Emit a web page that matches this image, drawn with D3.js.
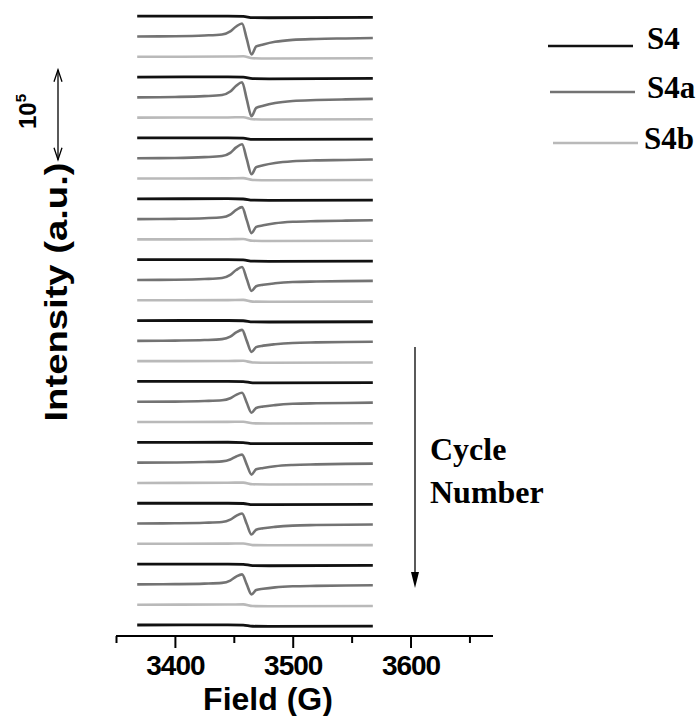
<!DOCTYPE html>
<html><head><meta charset="utf-8">
<script src="https://cdn.jsdelivr.net/npm/d3@7"></script>
<style>body{margin:0;background:#fff}</style>
</head><body>
<svg id="c" width="700" height="716"></svg>
<script>
// ---------- data ----------
const fieldTicks = [3350, 3400, 3450, 3500, 3550, 3600, 3650];
const tickLabels = ["3400", "3500", "3600"];
const seriesNames = ["S4", "S4a", "S4b"];
const seriesColors = ["#111111", "#737373", "#b9b9b9"];

// S4a field grid (G) and intensities (×10^4 a.u.) for each cycle 1..10
const fieldS4a = [3368, 3400, 3425, 3440, 3447, 3452, 3457, 3461, 3465, 3469, 3475, 3485, 3500, 3520, 3545, 3568];
const s4aCycle1  = [0, 0.03, 0.11, 0.22, 0.56, 1.11, 1.44, -0.28, -2.00, -1.11, -0.89, -0.60, -0.38, -0.28, -0.22, -0.17];
const s4aCycle2  = [0, 0.04, 0.13, 0.26, 0.64, 1.28, 1.67, -0.22, -2.11, -1.18, -0.93, -0.63, -0.40, -0.30, -0.23, -0.17];
const s4aCycle3  = [0, 0.03, 0.12, 0.24, 0.60, 1.20, 1.56, -0.11, -1.78, -1.00, -0.78, -0.53, -0.33, -0.24, -0.20, -0.14];
const s4aCycle4  = [0, 0.03, 0.10, 0.20, 0.51, 1.02, 1.33, -0.11, -1.56, -0.87, -0.69, -0.47, -0.30, -0.22, -0.17, -0.12];
const s4aCycle5  = [0, 0.03, 0.11, 0.22, 0.56, 1.11, 1.44, 0.11, -1.22, -0.69, -0.53, -0.37, -0.23, -0.17, -0.13, -0.10];
const s4aCycle6  = [0, 0.03, 0.09, 0.19, 0.47, 0.94, 1.22, 0.00, -1.22, -0.69, -0.53, -0.37, -0.23, -0.17, -0.13, -0.10];
const s4aCycle7  = [0, 0.02, 0.08, 0.16, 0.39, 0.77, 1.00, -0.11, -1.22, -0.69, -0.53, -0.37, -0.23, -0.17, -0.13, -0.10];
const s4aCycle8  = [0, 0.02, 0.07, 0.14, 0.34, 0.69, 0.89, -0.22, -1.33, -0.74, -0.59, -0.40, -0.26, -0.19, -0.14, -0.11];
const s4aCycle9  = [0, 0.03, 0.09, 0.17, 0.43, 0.86, 1.11, -0.06, -1.22, -0.69, -0.53, -0.37, -0.23, -0.17, -0.13, -0.10];
const s4aCycle10 = [0, 0.03, 0.09, 0.17, 0.43, 0.86, 1.11, 0.00, -1.11, -0.62, -0.49, -0.33, -0.21, -0.16, -0.12, -0.09];
const s4aCycles = [s4aCycle1, s4aCycle2, s4aCycle3, s4aCycle4, s4aCycle5, s4aCycle6, s4aCycle7, s4aCycle8, s4aCycle9, s4aCycle10];

// S4 and S4b: nearly flat traces with a small step near 3462 G
const fieldFlat = [3368, 3445, 3458, 3466, 3480, 3568];
const s4Traces = [
  [0, 0.00, -0.03, -0.17, -0.18, -0.14],
  [0, 0.01, -0.02, -0.18, -0.20, -0.16],
  [0, 0.00, -0.03, -0.16, -0.17, -0.13],
  [0, 0.01, -0.02, -0.15, -0.17, -0.14],
  [0, 0.00, -0.03, -0.16, -0.18, -0.15],
  [0, 0.01, -0.02, -0.14, -0.16, -0.13],
  [0, 0.00, -0.02, -0.15, -0.16, -0.12],
  [0, 0.01, -0.02, -0.14, -0.15, -0.13],
  [0, 0.00, -0.03, -0.15, -0.16, -0.12],
  [0, 0.01, -0.02, -0.16, -0.18, -0.15],
  [0, 0.01, -0.02, -0.14, -0.15, -0.12]
];
const s4bTraces = [
  [0, 0.02, 0.05, -0.17, -0.20, -0.17],
  [0, 0.02, 0.05, -0.18, -0.21, -0.18],
  [0, 0.02, 0.04, -0.16, -0.19, -0.16],
  [0, 0.02, 0.04, -0.15, -0.18, -0.15],
  [0, 0.02, 0.04, -0.15, -0.17, -0.15],
  [0, 0.02, 0.04, -0.14, -0.17, -0.14],
  [0, 0.02, 0.04, -0.14, -0.16, -0.14],
  [0, 0.02, 0.04, -0.15, -0.17, -0.15],
  [0, 0.02, 0.04, -0.14, -0.16, -0.14],
  [0, 0.02, 0.04, -0.15, -0.17, -0.15]
];
const traceStep = 2.255;   // stacking offset between traces (×10^4 a.u.)
const scaleBarSize = 10;   // 10^5 a.u. expressed in ×10^4 units

// ---------- drawing ----------
const svg = d3.select("#c");
const x = d3.scaleLinear().domain([3350, 3670]).range([116, 493]);
const y = d3.scaleLinear().domain([0, 70]).range([625, 625 - 70 * 9]);
const line = d3.line().x(d => x(d[0])).y(d => y(d[1])).curve(d3.curveMonotoneX);

const traces = [];
for (let c = 0; c < 10; c++) {
  traces.push({s: 0, f: fieldFlat, v: s4Traces[c]});
  traces.push({s: 1, f: fieldS4a, v: s4aCycles[c]});
  traces.push({s: 2, f: fieldFlat, v: s4bTraces[c]});
}
traces.push({s: 0, f: fieldFlat, v: s4Traces[10]});
const n = traces.length - 1;
traces.forEach((t, i) => {
  const off = (n - i) * traceStep;
  svg.append("path")
    .attr("d", line(t.f.map((f, k) => [f, t.v[k] + off])))
    .attr("fill", "none")
    .attr("stroke", seriesColors[t.s])
    .attr("stroke-width", t.s === 0 ? 2.8 : 2.6)
    .attr("stroke-linejoin", "round");
});

// x axis
const ax = svg.append("g").attr("transform", "translate(0,636)")
  .call(d3.axisBottom(x).tickValues(fieldTicks).tickSize(12).tickSizeOuter(0).tickPadding(7)
    .tickFormat(d => tickLabels.includes(String(d)) ? String(d) : ""));
ax.select(".domain").attr("stroke", "#000").attr("stroke-width", 2).attr("d", "M116,0H493");
ax.selectAll(".tick line").attr("stroke", "#000").attr("stroke-width", 2)
  .attr("y2", d => d % 100 === 0 ? 12 : 7);
ax.selectAll(".tick text").attr("fill", "#000")
  .style("font-family", "'Liberation Sans', Arial, sans-serif")
  .style("font-weight", "bold").style("font-size", "28px").style("letter-spacing", "-1px");

svg.append("text").attr("x", 268).attr("y", 710).attr("text-anchor", "middle")
  .style("font-family", "'Liberation Sans', Arial, sans-serif").style("font-weight", "bold")
  .style("font-size", "32px").text("Field (G)");

svg.append("text").attr("transform", "translate(67,292) rotate(-90)").attr("text-anchor", "middle")
  .attr("textLength", 259).attr("lengthAdjust", "spacingAndGlyphs")
  .style("font-family", "'Liberation Sans', Arial, sans-serif").style("font-weight", "bold")
  .style("font-size", "32px").text("Intensity (a.u.)");

// scale bar (10^5)
const sb0 = 51.7, sb1 = sb0 + scaleBarSize;
const sx = 58;
svg.append("line").attr("x1", sx).attr("x2", sx).attr("y1", y(sb1)).attr("y2", y(sb0))
  .attr("stroke", "#000").attr("stroke-width", 1.3);
svg.append("path").attr("d", `M${sx-4},${y(sb1)+12}L${sx},${y(sb1)}L${sx+4},${y(sb1)+12}`)
  .attr("fill", "none").attr("stroke", "#000").attr("stroke-width", 1.3);
svg.append("path").attr("d", `M${sx-4},${y(sb0)-12}L${sx},${y(sb0)}L${sx+4},${y(sb0)-12}`)
  .attr("fill", "none").attr("stroke", "#000").attr("stroke-width", 1.3);
const t10 = svg.append("text").attr("transform", "translate(36,129) rotate(-90)")
  .style("font-family", "'Liberation Sans', Arial, sans-serif").style("font-weight", "bold")
  .style("font-size", "24px");
t10.append("tspan").text("10");
t10.append("tspan").attr("dy", -10).style("font-size", "15px").text("5");

// cycle number arrow
svg.append("line").attr("x1", 415).attr("x2", 415).attr("y1", 347).attr("y2", 575)
  .attr("stroke", "#000").attr("stroke-width", 1.3);
svg.append("path").attr("d", "M411,572L415,588L419,572Z").attr("fill", "#000");
svg.append("text").attr("x", 430).attr("y", 460)
  .style("font-family", "'Liberation Serif', 'Times New Roman', serif").style("font-weight", "bold")
  .style("font-size", "32px").text("Cycle");
svg.append("text").attr("x", 430).attr("y", 503)
  .style("font-family", "'Liberation Serif', 'Times New Roman', serif").style("font-weight", "bold")
  .style("font-size", "32px").text("Number");

// legend
const legY = [46, 92, 143], legX1 = [548, 550, 553], legX2 = [633, 635, 638];
const legTX = [647, 647, 644], legTY = [49, 98, 149];
seriesNames.forEach((nm, i) => {
  svg.append("line").attr("x1", legX1[i]).attr("x2", legX2[i]).attr("y1", legY[i]).attr("y2", legY[i])
    .attr("stroke", seriesColors[i]).attr("stroke-width", i === 0 ? 2.6 : 2.4);
  svg.append("text").attr("x", legTX[i]).attr("y", legTY[i])
    .style("font-family", "'Liberation Serif', 'Times New Roman', serif").style("font-weight", "bold")
    .style("font-size", "31px").text(nm);
});
</script>
</body></html>
